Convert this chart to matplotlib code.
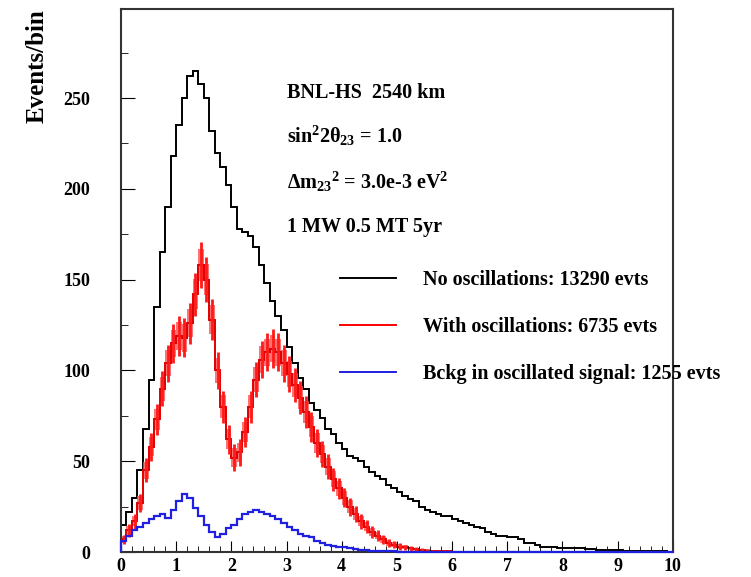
import numpy as np
import matplotlib
matplotlib.use("Agg")
import matplotlib.pyplot as plt
from matplotlib.ticker import MultipleLocator
from matplotlib.lines import Line2D

# Events per bin, bins of 0.1 from 0 to 10
no_osc = [
    15, 22, 30, 45, 68, 95, 135, 165, 190, 218,
    235, 250, 262, 265, 258, 250, 232, 220, 212, 202,
    190, 178, 176, 174, 168, 158, 148, 138, 130, 122,
    113, 104, 96, 90, 82, 78, 74, 68, 65, 60,
    57, 53, 52, 50, 47, 44, 42, 40, 37, 35,
    33, 31, 29, 28, 25, 23, 22, 21, 20, 20,
    18, 17, 16, 15, 14, 13, 11, 10, 9, 9,
    8, 8, 7, 5, 5, 4, 3, 3, 3, 2,
    2, 2, 2, 2, 1.5, 1.5, 1, 1, 1, 1,
    1, 0.8, 0.7, 0.6, 0.5, 0.5, 0.4, 0.3, 0.3, 0.2,
]
with_osc = [
    7, 12, 17, 27, 45, 58, 73, 90, 104, 115,
    119, 118, 126, 142, 158, 150, 128, 100, 80, 62,
    52, 55, 66, 80, 95, 106, 110, 112, 110, 104,
    98, 92, 85, 77, 69, 60, 54, 47, 40, 35,
    30, 25, 21, 17, 14, 11, 9, 7, 5, 4,
    3, 2.5, 2, 1.5, 1, 0.8, 0.6, 0.5, 0.4, 0.3,
    0.2, 0.1, 0, 0, 0, 0, 0, 0, 0, 0,
    0, 0, 0, 0, 0, 0, 0, 0, 0, 0,
    0, 0, 0, 0, 0, 0, 0, 0, 0, 0,
    0, 0, 0, 0, 0, 0, 0, 0, 0, 0,
]
bckg = [
    6, 9, 12, 14, 16, 18, 20, 21, 19, 23,
    28, 32, 30, 24, 20, 15, 11, 8, 10, 13,
    15, 18, 21, 22, 23, 22, 21, 20, 18, 16,
    14, 12, 10, 9, 8, 6, 5, 4, 3.5, 3,
    2.5, 2, 1.5, 1.2, 1, 0.8, 0.6, 0.5, 0.4, 0.3,
    0.2, 0.1, 0, 0, 0, 0, 0, 0, 0, 0,
    0, 0, 0, 0, 0, 0, 0, 0, 0, 0,
    0, 0, 0, 0, 0, 0, 0, 0, 0, 0,
    0, 0, 0, 0, 0, 0, 0, 0, 0, 0,
    0, 0, 0, 0, 0, 0, 0, 0, 0, 0,
]
labels = [
    "No oscillations: 13290 evts",
    "With oscillations: 6735 evts",
    "Bckg in oscillated signal: 1255 evts",
]

plt.rcParams["font.family"] = "Liberation Serif"
plt.rcParams["font.weight"] = "bold"
plt.rcParams["mathtext.fontset"] = "custom"
plt.rcParams["mathtext.rm"] = "Liberation Serif:bold"
plt.rcParams["mathtext.it"] = "Liberation Serif:bold"
plt.rcParams["mathtext.bf"] = "Liberation Serif:bold"

edges = np.linspace(0, 10, len(no_osc) + 1)
centers = 0.5 * (edges[:-1] + edges[1:])
red_vals = np.array(with_osc)
red_err = np.sqrt(red_vals)  # poisson errors

fig = plt.figure(figsize=(7.51, 5.77), dpi=100)
ax = fig.add_axes([0.161, 0.0433, 0.735, 0.941])

ax.stairs(no_osc, edges, color="black", linewidth=1.4)
# red error band
ax.fill_between(edges, np.append(red_vals - red_err * 0.7, 0),
                np.append(red_vals + red_err * 0.7, 0), step="post",
                color="#ff5050", alpha=0.8, linewidth=0)
ax.errorbar(centers, red_vals, yerr=red_err, fmt="none", ecolor="#ff1a1a",
            elinewidth=2.0)
ax.stairs(with_osc, edges, color="#e00000", linewidth=1.4)
ax.stairs(bckg, edges, color="#2020e0", linewidth=1.6, zorder=5, clip_on=False)

ax.set_xlim(0, 10)
ax.set_ylim(0, 299)
ax.xaxis.set_major_locator(MultipleLocator(1))
ax.xaxis.set_minor_locator(MultipleLocator(0.2))
ax.yaxis.set_major_locator(MultipleLocator(50))
ax.yaxis.set_minor_locator(MultipleLocator(25))
ax.tick_params(which="both", direction="in", top=False, right=False, labelsize=13)
ax.tick_params(axis="x", which="major", length=8, pad=4)
ax.tick_params(axis="x", which="minor", length=4)
ax.tick_params(axis="y", which="major", length=10, pad=22)
ax.tick_params(axis="y", which="minor", length=5)
for s in ax.spines.values():
    s.set_linewidth(1.5)
    s.set_color("#333333")

fig.text(37 / 751, 1 - 9 / 577, "Events/bin", rotation=90, ha="center", va="top",
         fontsize=18, fontweight="bold")

ax.text(3.0, 253, "BNL-HS  2540 km", fontsize=14.5, va="center")
ax.text(3.0, 229, r"sin$^{2}$2$\theta_{23}$ = 1.0", fontsize=14.5, va="center")
ax.text(3.0, 204, r"$\Delta$m$_{23}$$^{2}$ = 3.0e-3 eV$^{2}$", fontsize=14.5, va="center")
ax.text(3.0, 179, "1 MW 0.5 MT 5yr", fontsize=14.5, va="center")

handles = [Line2D([], [], color="black", lw=1.4),
           Line2D([], [], color="red", lw=1.4),
           Line2D([], [], color="#2020e0", lw=1.4)]
leg = ax.legend(handles, labels, loc="upper left", bbox_to_anchor=(0.397, 0.52),
                frameon=False, prop={"size": 14.5, "weight": "bold"},
                handlelength=2.8, handletextpad=1.3,
                labelspacing=1.35, borderpad=0, borderaxespad=0)
leg.set_clip_on(False)

fig.savefig("out.png", dpi=100)
